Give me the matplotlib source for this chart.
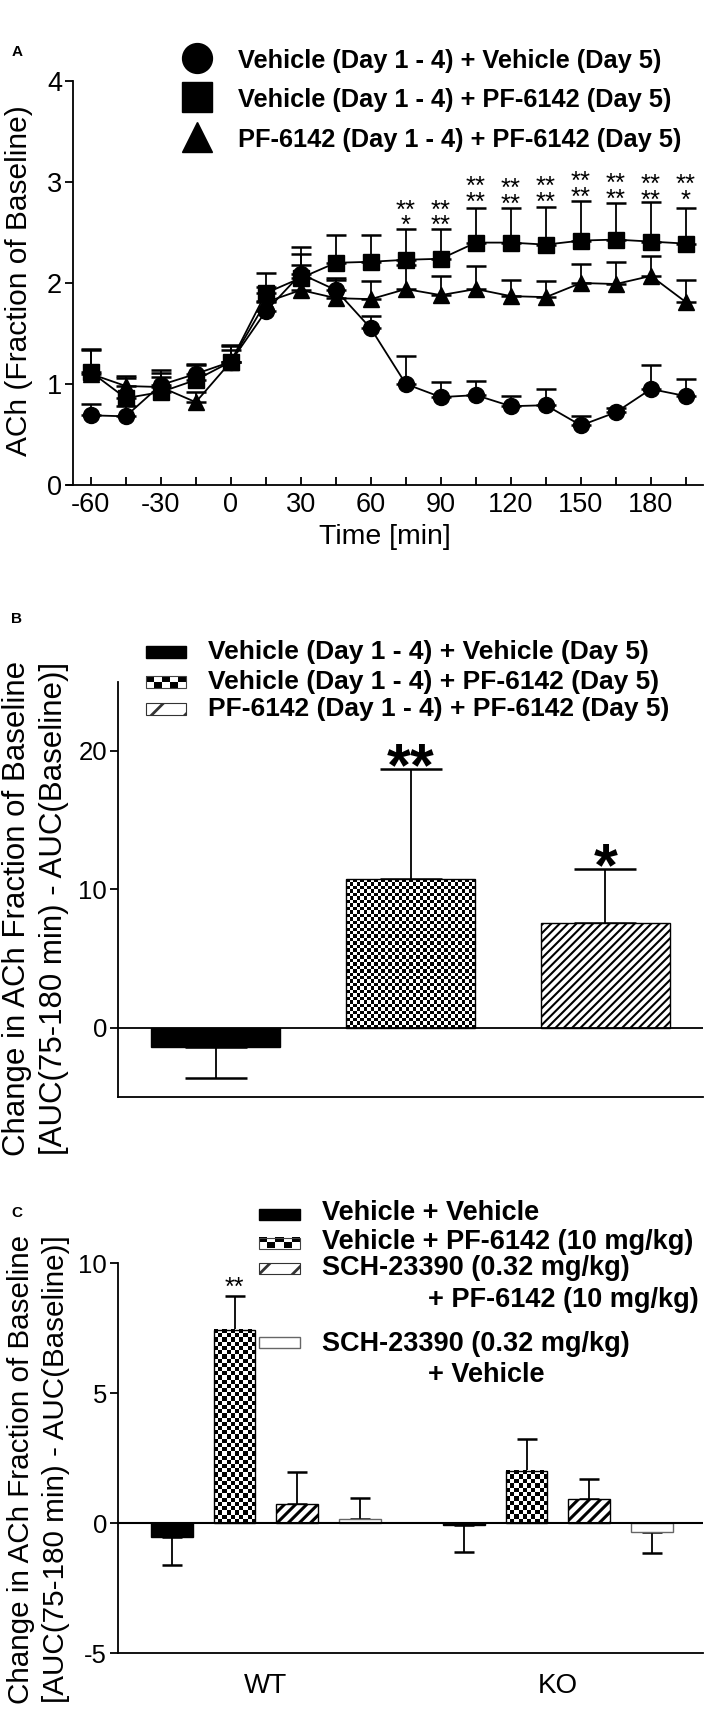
import numpy as np
import matplotlib
matplotlib.use("Agg")
import matplotlib.pyplot as plt
from matplotlib.patches import Rectangle
from matplotlib import transforms

plt.rcParams["font.family"] = ["Liberation Sans", "DejaVu Sans"]
plt.rcParams["axes.linewidth"] = 1.3
plt.rcParams["axes.unicode_minus"] = False

# ---------------- data ----------------
time_min = [-60, -45, -30, -15, 0, 15, 30, 45, 60, 75, 90, 105, 120, 135, 150, 165, 180, 195]

veh_veh = [0.69, 0.68, 0.99, 1.10, 1.22, 1.72, 2.09, 1.93, 1.55, 1.00, 0.87, 0.89,
           0.78, 0.79, 0.59, 0.72, 0.95, 0.88]
veh_veh_sem = [0.11, 0.10, 0.12, 0.09, 0.17, 0.10, 0.20, 0.10, 0.12, 0.28, 0.15, 0.14,
               0.10, 0.16, 0.09, 0.04, 0.24, 0.17]
veh_pf = [1.12, 0.86, 0.92, 1.04, 1.22, 1.90, 2.05, 2.20, 2.21, 2.23, 2.24, 2.40,
          2.40, 2.38, 2.42, 2.43, 2.41, 2.39]
veh_pf_sem = [0.23, 0.20, 0.22, 0.16, 0.16, 0.20, 0.31, 0.28, 0.27, 0.30, 0.29, 0.34,
              0.34, 0.37, 0.39, 0.36, 0.39, 0.35]
pf_pf = [1.10, 0.98, 0.97, 0.82, 1.22, 1.81, 1.93, 1.85, 1.84, 1.94, 1.88, 1.94,
         1.87, 1.86, 2.00, 1.99, 2.07, 1.81]
pf_pf_sem = [0.24, 0.10, 0.10, 0.10, 0.12, 0.15, 0.25, 0.20, 0.18, 0.24, 0.19, 0.23,
             0.16, 0.16, 0.19, 0.22, 0.20, 0.22]

# significance marks above the Vehicle + PF-6142 curve (two rows per time point)
star_times = [75, 90, 105, 120, 135, 150, 165, 180, 195]
star_marks = ["**\n*", "**\n**", "**\n**", "**\n**", "**\n**", "**\n**", "**\n**",
              "**\n**", "**\n*"]
star_row2_y = [2.64, 2.64, 2.87, 2.85, 2.87, 2.92, 2.90, 2.89, 2.89]

labels_b = ["Vehicle (Day 1 - 4) + Vehicle (Day 5)",
            "Vehicle (Day 1 - 4) + PF-6142 (Day 5)",
            "PF-6142 (Day 1 - 4) + PF-6142 (Day 5)"]
auc_b = [-1.40, 10.77, 7.56]
auc_b_sem = [2.24, 7.90, 3.90]
stars_b = ["", "**", "*"]
stars_b_y = [0, 20.05, 12.83]

genotypes = ["WT", "KO"]
labels_c = ["Vehicle + Vehicle", "Vehicle + PF-6142 (10 mg/kg)",
            "SCH-23390 (0.32 mg/kg)\n+ PF-6142 (10 mg/kg)",
            "SCH-23390 (0.32 mg/kg)\n+ Vehicle"]
auc_wt = [-0.52, 7.43, 0.73, 0.18]
auc_wt_sem = [1.07, 1.31, 1.25, 0.78]
auc_ko = [-0.07, 2.01, 0.92, -0.35]
auc_ko_sem = [1.02, 1.22, 0.78, 0.80]

W, H = 710, 1710
fig = plt.figure(figsize=(W / 100, H / 100), dpi=100)


def px_rect(l, t, r, b):
    return [l / W, 1 - b / H, (r - l) / W, (b - t) / H]


def hatch_lw(patch, lw):
    if hasattr(patch, "set_hatch_linewidth"):
        patch.set_hatch_linewidth(lw)
    else:
        patch._hatch_linewidth = lw


def checker(ax, patch, cell):
    x0, y0 = patch.get_x(), patch.get_y()
    w, h = patch.get_width(), patch.get_height()
    p0 = ax.transData.transform((x0, y0))
    p1 = ax.transData.transform((x0 + w, y0 + h))
    nx = max(1, int(round(abs(p1[0] - p0[0]) / cell)))
    ny = max(1, int(round(abs(p1[1] - p0[1]) / cell)))
    board = np.indices((ny, nx)).sum(axis=0) % 2
    ax.imshow(board, cmap="gray", vmin=0, vmax=1, extent=(x0, x0 + w, y0, y0 + h),
              aspect="auto", interpolation="nearest", zorder=patch.get_zorder() - 0.5,
              clip_path=patch)


def stars(ax, x, y, s, size, weight="normal", spacing=0.57):
    # y is where the last row of asterisks should sit
    tr = transforms.offset_copy(ax.transData, fig=fig, y=-0.58 * size, units="points")
    ax.text(x, y, s, transform=tr, ha="center", va="baseline", fontsize=size,
            fontweight=weight, linespacing=spacing, multialignment="center")


# ---------------- panel A ----------------
axA = fig.add_axes(px_rect(66.7, 81, 703, 485))
series = [(veh_veh, veh_veh_sem, "o"), (veh_pf, veh_pf_sem, "s"), (pf_pf, pf_pf_sem, "^")]
for mean, sem, mk in series:
    mean = np.array(mean)
    sem = np.array(sem)
    axA.errorbar(time_min, mean, yerr=[np.zeros_like(sem), sem], fmt="none", ecolor="black",
                 elinewidth=1.3, capsize=7, capthick=1.8, zorder=2)
    axA.plot(time_min, mean, color="black", lw=1.3, marker=mk, ms=12 if mk == "^" else 11.5,
             mfc="black", mec="black", zorder=3)

for t, s, y in zip(star_times, star_marks, star_row2_y):
    stars(axA, t, y, s, 18.5)

axA.set_xlim(-70.3, 202.3)
axA.set_ylim(0, 4)
axA.spines["top"].set_visible(False)
axA.spines["right"].set_visible(False)
axA.spines["left"].set_position(("data", -67.5))
axA.set_xticks(range(-60, 181, 30))
axA.set_xticks(range(-45, 196, 30), minor=True)
axA.set_yticks([0, 1, 2, 3, 4])
axA.tick_params(axis="x", which="both", direction="in", length=6, width=1.3,
                labelsize=19.5, pad=5)
axA.tick_params(axis="y", direction="out", length=6, width=1.3, labelsize=19.5, pad=2)

# ---------------- panel B ----------------
axB = fig.add_axes(px_rect(118.3, 681.7, 702.7, 1096.7))
axB.set_xlim(-0.5, 2.5)
axB.set_ylim(-5, 25)
xb = np.arange(len(auc_b))
with plt.rc_context({"hatch.linewidth": 1.5}):
    barsB = axB.bar(xb, auc_b, width=0.663, color=["black", "none", "white"],
                    edgecolor="black", linewidth=1, zorder=3)
barsB[2].set_hatch("////")
hatch_lw(barsB[2], 1.5)
checker(axB, barsB[1], 3.5)
lower = [auc_b_sem[i] if auc_b[i] < 0 else 0 for i in range(len(auc_b))]
upper = [auc_b_sem[i] if auc_b[i] >= 0 else 0 for i in range(len(auc_b))]
axB.errorbar(xb, auc_b, yerr=[lower, upper], fmt="none", ecolor="black", elinewidth=1.3,
             capsize=22.5, capthick=1.8, zorder=2)
axB.axhline(0, color="black", lw=1.3, zorder=4)
for i in range(len(auc_b)):
    if stars_b[i]:
        stars(axB, xb[i], stars_b_y[i], stars_b[i], 44, "bold")
axB.spines["top"].set_visible(False)
axB.spines["right"].set_visible(False)
axB.set_xticks([])
axB.set_yticks([0, 10, 20])
axB.tick_params(axis="y", direction="out", length=6, width=1.3, labelsize=18.5, pad=2)

# ---------------- panel C ----------------
axC = fig.add_axes(px_rect(118.3, 1263.3, 703, 1653.3))
axC.set_xlim(-2.356, 6.976)
axC.set_ylim(-5, 10)
group_x = np.array([0, 4.66])
offs = np.arange(4) - 1.5
faces = ["black", "none", "white", "white"]
edges = ["black", "black", "black", "#666666"]
for g, (vals, sems) in enumerate([(auc_wt, auc_wt_sem), (auc_ko, auc_ko_sem)]):
    xs = group_x[g] + offs
    with plt.rc_context({"hatch.linewidth": 2.2}):
        bars = axC.bar(xs, vals, width=0.663, color=faces, edgecolor=edges,
                       linewidth=1, zorder=3)
    bars[2].set_hatch("///")
    hatch_lw(bars[2], 2.2)
    checker(axC, bars[1], 4.2)
    lo = [sems[i] if vals[i] < 0 else 0 for i in range(4)]
    up = [sems[i] if vals[i] >= 0 else 0 for i in range(4)]
    axC.errorbar(xs, vals, yerr=[lo, up], fmt="none", ecolor="black", elinewidth=1.3,
                 capsize=7.5, capthick=1.8, zorder=2)
stars(axC, group_x[0] + offs[1], 9.36, "**", 18)
axC.axhline(0, color="black", lw=1.5, zorder=4)
axC.spines["top"].set_visible(False)
axC.spines["right"].set_visible(False)
axC.set_xticks(group_x)
axC.set_xticklabels(genotypes)
axC.set_yticks([-5, 0, 5, 10])
axC.tick_params(axis="x", length=0, labelsize=20, pad=14)
axC.tick_params(axis="y", direction="out", length=6, width=1.3, labelsize=18.5, pad=2)

# ---------------- labels and legends (pixel overlay) ----------------
ov = fig.add_axes([0, 0, 1, 1])
ov.set_xlim(0, W)
ov.set_ylim(H, 0)
ov.set_autoscale_on(False)
ov.axis("off")

for letter, y in [("A", 52), ("B", 619), ("C", 1213)]:
    ov.text(17, y, letter, fontsize=11, fontweight="bold", ha="center", va="center")

ov.text(19, 281, "ACh (Fraction of Baseline)", rotation=90, fontsize=21.5,
        ha="center", va="center")
ov.text(385, 537, "Time [min]", fontsize=20.5, ha="center", va="center")
ylab1 = "Change in ACh Fraction of Baseline"
ylab2 = "[AUC(75-180 min) - AUC(Baseline)]"
ov.text(17, 908, ylab1, rotation=90, fontsize=22.5, ha="center", va="center")
ov.text(54, 908, ylab2, rotation=90, fontsize=22.5, ha="center", va="center")
ov.text(21, 1469, ylab1, rotation=90, fontsize=21.3, ha="center", va="center")
ov.text(56, 1469, ylab2, rotation=90, fontsize=21.3, ha="center", va="center")

# legend A
for (mk, y), lab in zip([("o", 58), ("s", 97), ("^", 137)], labels_b):
    ov.plot([197], [y], marker=mk, ms=21.5, color="black", ls="none")
    ov.text(238, y + 3, lab, fontsize=18.3, fontweight="bold", ha="left", va="center")


def leg_patch(x, y, w, h, kind):
    if kind == "solid":
        ov.add_patch(Rectangle((x, y - h / 2), w, h, facecolor="black", edgecolor="black"))
    elif kind == "checker":
        board = np.indices((2, 5)).sum(axis=0) % 2
        ov.imshow(board, cmap="gray", vmin=0, vmax=1, extent=(x, x + w, y + h / 2, y - h / 2),
                  aspect="auto", interpolation="nearest")
        ov.add_patch(Rectangle((x, y - h / 2), w, h, facecolor="none", edgecolor="#444444",
                               lw=0.8))
    elif kind == "hatch":
        r = Rectangle((x, y - h / 2), w, h, facecolor="white", edgecolor="#333333",
                      lw=0.8, hatch="/")
        hatch_lw(r, 2.0)
        ov.add_patch(r)
    else:
        ov.add_patch(Rectangle((x, y - h / 2), w, h, facecolor="white", edgecolor="#666666",
                               lw=1))


# legend B
for (kind, y), lab in zip([("solid", 652), ("checker", 682), ("hatch", 709)], labels_b):
    leg_patch(146, y, 40, 12, kind)
    ov.text(208, y, lab, fontsize=19, fontweight="bold", ha="left", va="center")

# legend C
kinds_c = ["solid", "checker", "hatch", "open"]
patch_y_c = [1214, 1243, 1268, 1342]
text_y_c = [[1213], [1242], [1268, 1300], [1344, 1375]]
for kind, py, tys, lab in zip(kinds_c, patch_y_c, text_y_c, labels_c):
    leg_patch(259, py, 41, 11, kind)
    for k, (ty, line) in enumerate(zip(tys, lab.split("\n"))):
        ov.text(322 if k == 0 else 428, ty, line, fontsize=19.5, fontweight="bold",
                ha="left", va="center")

fig.savefig("out.png", dpi=100)
